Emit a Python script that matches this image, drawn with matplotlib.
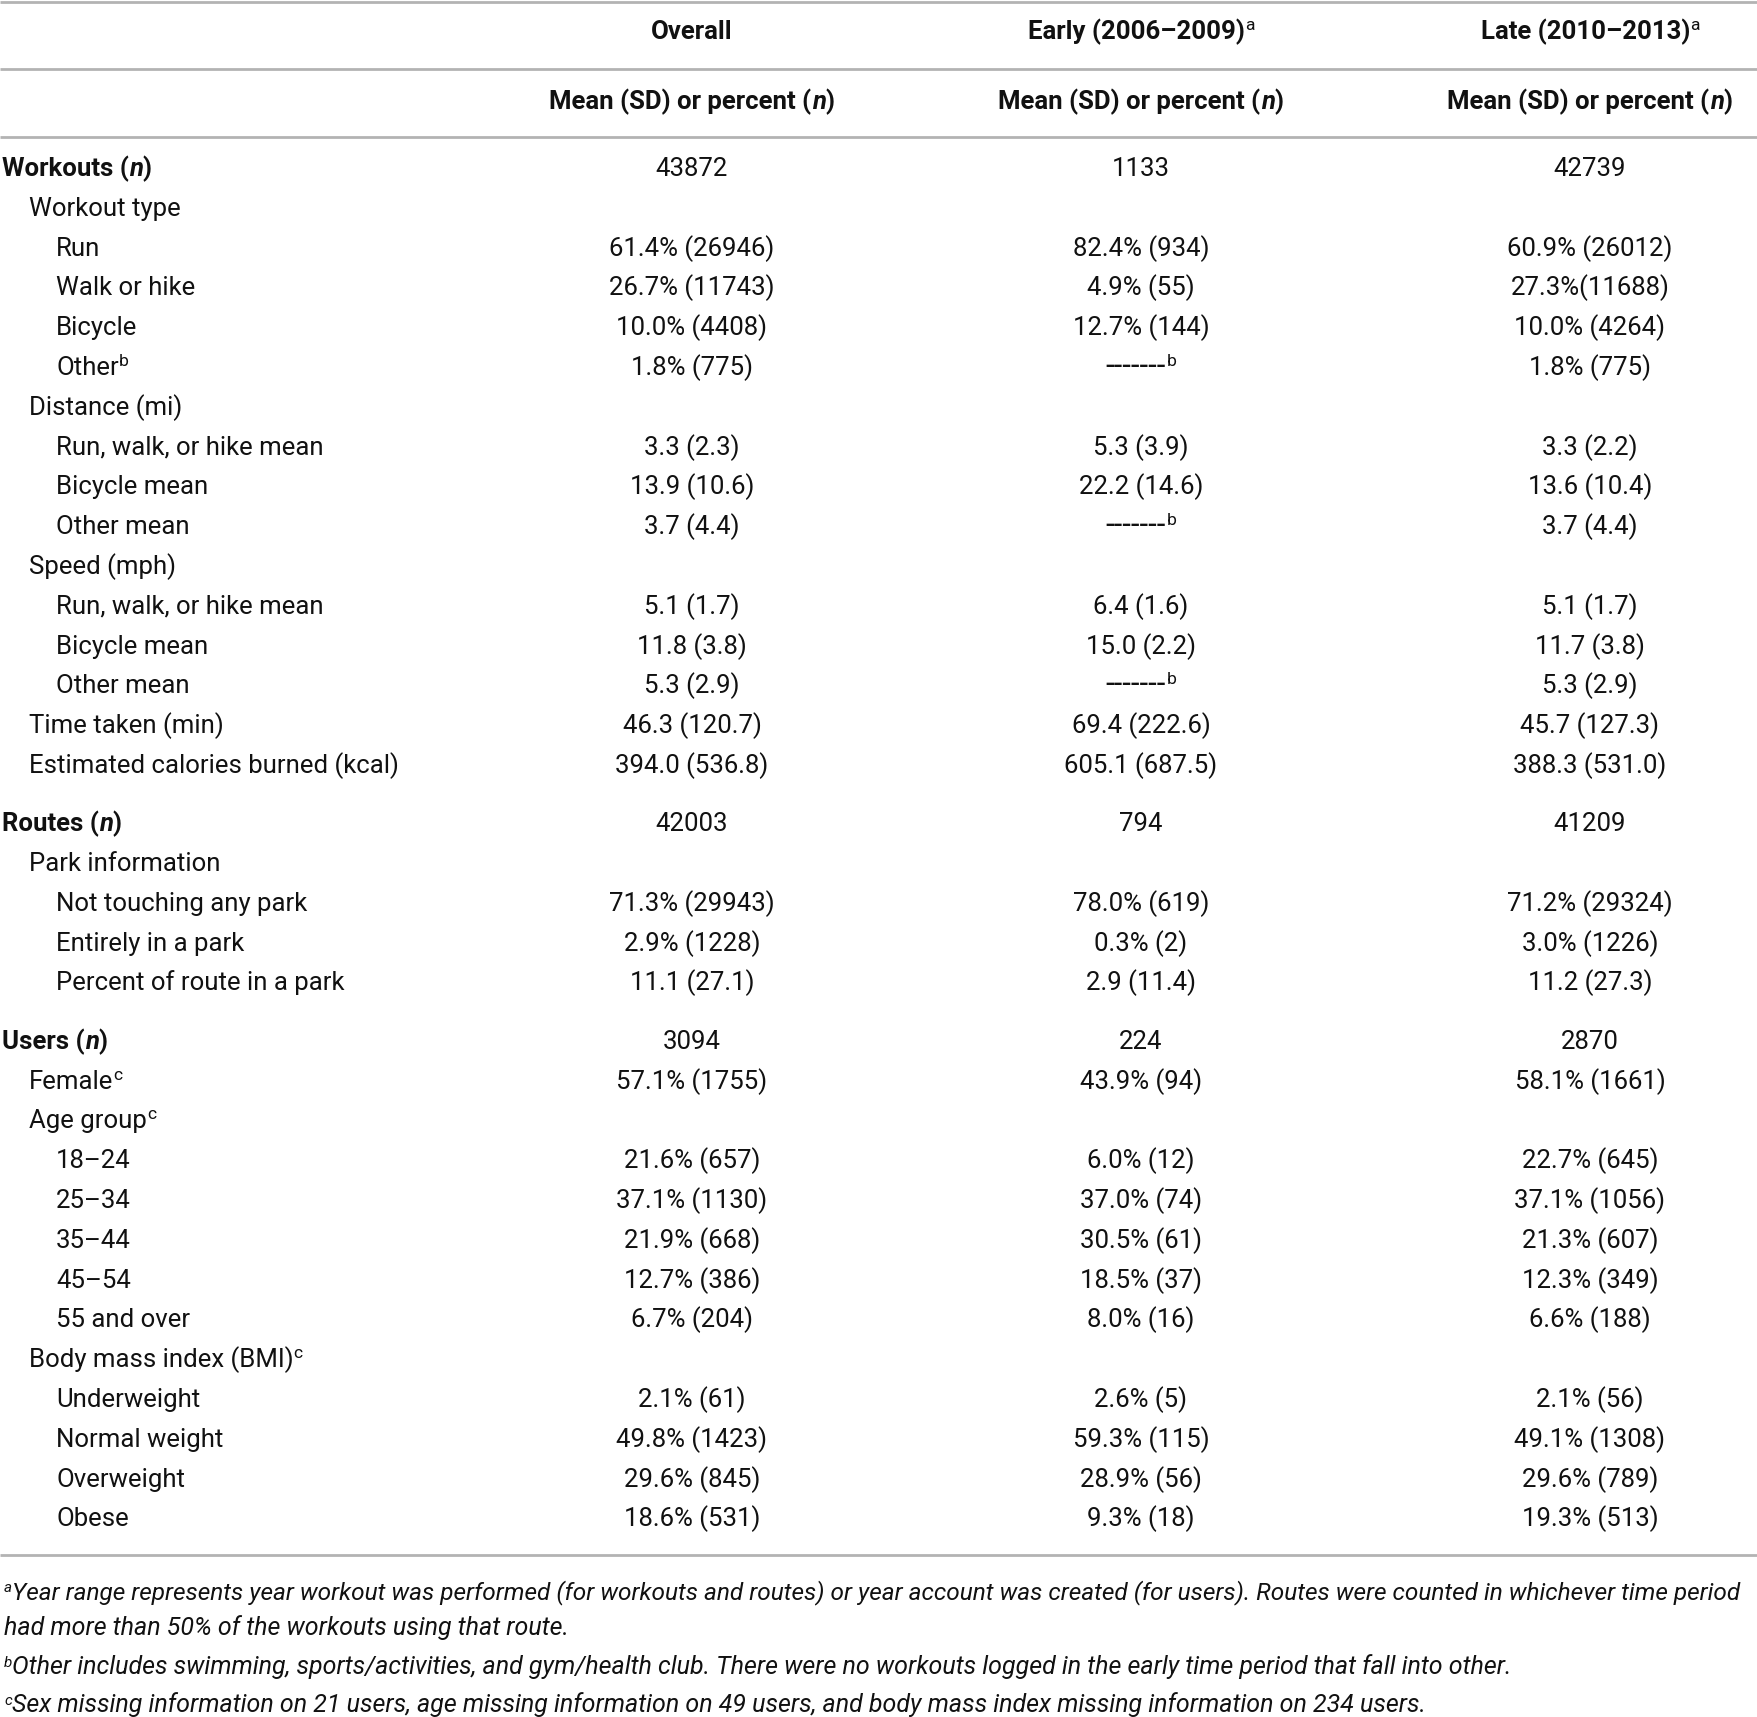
import matplotlib
matplotlib.use("Agg")
import matplotlib.pyplot as plt

W, H = 1757, 1717

col_headers = ["Overall", "Early (2006–2009)^a", "Late (2010–2013)^a"]
sub_header = "Mean (SD) or percent (_n_)"

labels = ["Workouts (_n_)", "Workout type", "Run", "Walk or hike", "Bicycle", "Other^b",
          "Distance (mi)", "Run, walk, or hike mean", "Bicycle mean", "Other mean",
          "Speed (mph)", "Run, walk, or hike mean", "Bicycle mean", "Other mean",
          "Time taken (min)", "Estimated calories burned (kcal)",
          "Routes (_n_)", "Park information", "Not touching any park", "Entirely in a park",
          "Percent of route in a park",
          "Users (_n_)", "Female^c", "Age group^c", "18–24", "25–34", "35–44", "45–54",
          "55 and over", "Body mass index (BMI)^c", "Underweight", "Normal weight",
          "Overweight", "Obese"]
levels = [0, 1, 2, 2, 2, 2, 1, 2, 2, 2, 1, 2, 2, 2, 1, 1,
          0, 1, 2, 2, 2,
          0, 1, 1, 2, 2, 2, 2, 2, 1, 2, 2, 2, 2]
overall = ["43872", "", "61.4% (26946)", "26.7% (11743)", "10.0% (4408)", "1.8% (775)",
           "", "3.3 (2.3)", "13.9 (10.6)", "3.7 (4.4)",
           "", "5.1 (1.7)", "11.8 (3.8)", "5.3 (2.9)", "46.3 (120.7)", "394.0 (536.8)",
           "42003", "", "71.3% (29943)", "2.9% (1228)", "11.1 (27.1)",
           "3094", "57.1% (1755)", "", "21.6% (657)", "37.1% (1130)", "21.9% (668)",
           "12.7% (386)", "6.7% (204)", "", "2.1% (61)", "49.8% (1423)", "29.6% (845)",
           "18.6% (531)"]
early = ["1133", "", "82.4% (934)", "4.9% (55)", "12.7% (144)", "-------^b",
         "", "5.3 (3.9)", "22.2 (14.6)", "-------^b",
         "", "6.4 (1.6)", "15.0 (2.2)", "-------^b", "69.4 (222.6)", "605.1 (687.5)",
         "794", "", "78.0% (619)", "0.3% (2)", "2.9 (11.4)",
         "224", "43.9% (94)", "", "6.0% (12)", "37.0% (74)", "30.5% (61)",
         "18.5% (37)", "8.0% (16)", "", "2.6% (5)", "59.3% (115)", "28.9% (56)",
         "9.3% (18)"]
late = ["42739", "", "60.9% (26012)", "27.3%(11688)", "10.0% (4264)", "1.8% (775)",
        "", "3.3 (2.2)", "13.6 (10.4)", "3.7 (4.4)",
        "", "5.1 (1.7)", "11.7 (3.8)", "5.3 (2.9)", "45.7 (127.3)", "388.3 (531.0)",
        "41209", "", "71.2% (29324)", "3.0% (1226)", "11.2 (27.3)",
        "2870", "58.1% (1661)", "", "22.7% (645)", "37.1% (1056)", "21.3% (607)",
        "12.3% (349)", "6.6% (188)", "", "2.1% (56)", "49.1% (1308)", "29.6% (789)",
        "19.3% (513)"]
foot_marks = ["a", "", "b", "c"]
foot_texts = [
    "Year range represents year workout was performed (for workouts and routes) or year account was created (for users). Routes were counted in whichever time period",
    "had more than 50% of the workouts using that route.",
    "Other includes swimming, sports/activities, and gym/health club. There were no workouts logged in the early time period that fall into other.",
    "Sex missing information on 21 users, age missing information on 49 users, and body mass index missing information on 234 users.",
]

FONT = ["Roboto", "DejaVu Sans"]
FS = 18.5
COLOR = "#111111"
col_x = [692, 1141, 1590]
level_x = [2, 29, 56]

fig = plt.figure(figsize=(W / 100, H / 100), dpi=100)
ax = fig.add_axes([0, 0, 1, 1])
ax.set_xlim(0, W)
ax.set_ylim(H, 0)
ax.axis("off")
renderer = fig.canvas.get_renderer()


def parse(s, bold=False, italic=False, fs=FS):
    # "_x_" -> italic run, "^x" at the end -> superscript
    runs = []
    parts = s.split("_")
    for i, p in enumerate(parts):
        if not p:
            continue
        it = italic or (i % 2 == 1)
        if "^" in p:
            main, sup = p.split("^")
            if main:
                # dashes in the reference are a little wider
                size = fs * 1.2 if set(main) == {"-"} else fs
                runs.append((main, bold, it, size, 0))
            runs.append((sup, False, it, fs * 0.68, -9))
        else:
            runs.append((p, bold, it, fs, 0))
    return runs


def draw_runs(x, yc, runs, ha="left"):
    base = yc + 8
    arts, widths = [], []
    for text, b, it, size, dy in runs:
        t = ax.text(0, base + dy, text, fontsize=size, family=FONT, color=COLOR,
                    fontweight="bold" if b else "normal",
                    fontstyle="italic" if it else "normal",
                    ha="left", va="baseline")
        arts.append(t)
        widths.append(t.get_window_extent(renderer).width)
    total = sum(widths)
    cx = x - total / 2 if ha == "center" else x
    for t, w in zip(arts, widths):
        t.set_x(cx)
        cx += w
    return arts


def draw(x, yc, s, ha="left", bold=False, italic=False, fs=FS):
    draw_runs(x, yc, parse(s, bold, italic, fs), ha)


# horizontal rules
for yl in [2, 69, 137, 1555]:
    ax.plot([0, W], [yl, yl], color="#b3b3b3", lw=2, solid_capstyle="butt")

for x, h in zip(col_x, col_headers):
    draw(x, 31, h, ha="center", bold=True)
    draw(x, 101, sub_header, ha="center", bold=True)

y = 168
for i, lab in enumerate(labels):
    if i > 0 and levels[i] == 0:
        y += 18.5
    draw(level_x[levels[i]], y, lab, bold=(levels[i] == 0))
    for x, col in zip(col_x, [overall, early, late]):
        if col[i]:
            draw(x, y, col[i], ha="center")
    y += 39.8

fy = [1591, 1627, 1666, 1704]
for mark, text, yy in zip(foot_marks, foot_texts, fy):
    fs = 18.0
    while True:
        runs = []
        if mark:
            runs.append((mark, False, True, 11, -7))
        runs.append((text, False, True, fs, 0))
        arts = draw_runs(4, yy, runs)
        right = arts[-1].get_window_extent(renderer).x1
        if right <= W - 3:
            break
        for a in arts:
            a.remove()
        fs -= 0.2

fig.savefig("out.png", dpi=100)
